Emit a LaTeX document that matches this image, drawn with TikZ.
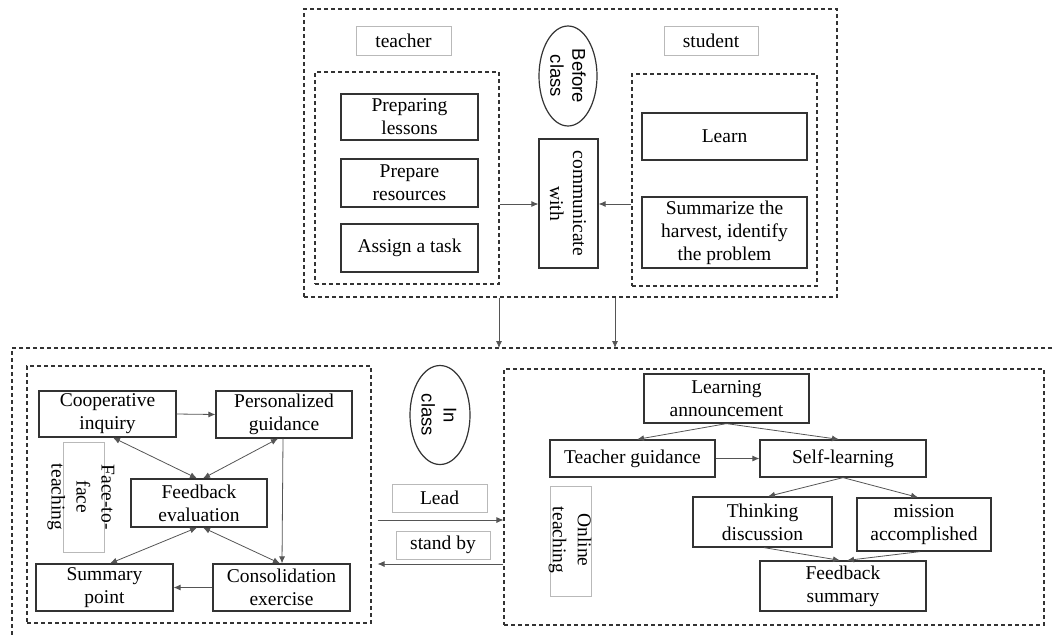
\documentclass[tikz,border=0pt]{standalone}
\usepackage{fontspec}
\setmainfont{Liberation Serif}
\newfontfamily\sansf{Liberation Sans}
\usetikzlibrary{arrows.meta,shapes.geometric}
\definecolor{bord}{HTML}{333333}
\definecolor{lin}{HTML}{555555}
\tikzset{
  box/.style={draw=bord,line width=1.2pt,rectangle,inner sep=0pt,align=center,font=\fontsize{19.5}{23}\selectfont},
  dbox/.style={draw=bord,line width=1.1pt,dash pattern=on 4pt off 3pt,rectangle,inner sep=0pt},
  lbl/.style={draw=gray!55,line width=0.9pt,rectangle,inner sep=0pt,align=center,font=\fontsize{19.5}{23}\selectfont},
  gbox/.style={draw=gray!55,line width=0.9pt,rectangle,inner sep=0pt},
  oval/.style={draw=bord,line width=1.2pt,ellipse,inner sep=0pt},
  rtext/.style={rotate=-90,align=center,inner sep=0pt},
  arr/.style={draw=lin,line width=0.8pt,-{Latex[length=7pt,width=6pt]}},
  darr/.style={draw=lin,line width=0.8pt,{Latex[length=7pt,width=6pt]}-{Latex[length=7pt,width=6pt]}},
}
\begin{document}
\begin{tikzpicture}[x=1pt,y=-1pt]
\useasboundingbox (0,0) rectangle (1056,635);
% ---------- top part ----------
\node[dbox,minimum width=533,minimum height=288] (topbox) at (570.5,153) {};
\node[lbl,minimum width=95,minimum height=29] (teacher) at (403.5,40.5) {teacher};
\node[lbl,minimum width=94,minimum height=29] (student) at (711,40.5) {student};
\node[oval,minimum width=58,minimum height=100] (before) at (568,76) {};
\node[rtext,font=\sansf\fontsize{18.5}{22}\selectfont] (beforet) at (568,76) {Before\\class};
\node[dbox,minimum width=184,minimum height=212] (tbox) at (407,178) {};
\node[box,minimum width=137,minimum height=46] (p1) at (409.5,117) {Preparing\\lessons};
\node[box,minimum width=137,minimum height=48] (p2) at (409.5,183) {Prepare\\resources};
\node[box,minimum width=137,minimum height=48] (p3) at (409.5,248) {Assign a task};
\node[box,minimum width=59,minimum height=129] (comm) at (568.5,203.5) {};
\node[rtext,font=\fontsize{19.5}{23}\selectfont] (commt) at (568,203.5) {communicate\\with};
\node[dbox,minimum width=185,minimum height=212] (sbox) at (724.5,180) {};
\node[box,minimum width=165,minimum height=47] (learn) at (724.5,136.5) {Learn};
\node[box,minimum width=165,minimum height=71] (summ) at (724.5,232.5) {Summarize the\\harvest, identify\\the problem};
\coordinate (ya) at (0,204);
\draw[arr] (tbox.east |- ya) -- (comm.west |- ya);
\draw[arr] (sbox.west |- ya) -- (comm.east |- ya);
% ---------- bottom outer ----------
\coordinate (bo1) at (12,348);
\coordinate (bo2) at (1052,348);
\coordinate (bo3) at (12,635);
\draw[draw=bord,line width=1.1pt,dash pattern=on 4pt off 3pt] (bo2) -- (bo1) -- (bo3);
\coordinate (d1) at (499,348);
\coordinate (d2) at (615,348);
\draw[arr] (topbox.south -| d1) -- (d1);
\draw[arr] (topbox.south -| d2) -- (d2);
% ---------- left bottom ----------
\node[dbox,minimum width=344,minimum height=257] (lbox) at (199,494.5) {};
\node[box,minimum width=137,minimum height=46] (coop) at (107.5,414) {Cooperative\\inquiry};
\node[box,minimum width=136,minimum height=47] (pers) at (284,414.5) {Personalized\\guidance};
\node[gbox,minimum width=41,minimum height=110] (f2f) at (83.5,497) {};
\node[rtext,font=\fontsize{19.5}{25}\selectfont] (f2ft) at (81,497) {Face-to-\\face\\teaching};
\node[box,minimum width=136,minimum height=48] (feval) at (199,503) {Feedback\\evaluation};
\node[box,minimum width=137,minimum height=47] (summp) at (104.5,587.5) {Summary\\point};
\node[box,minimum width=137,minimum height=47] (cons) at (281.5,587.5) {Consolidation\\exercise};
\node[oval,minimum width=60,minimum height=99] (inclass) at (440,415) {};
\node[rtext,font=\sansf\fontsize{18.5}{22}\selectfont] (inclasst) at (439,415) {In\\class};
\node[lbl,minimum width=95,minimum height=28] (lead) at (439.5,498) {Lead};
\node[lbl,minimum width=94,minimum height=28] (standby) at (443,545) {stand by};
\draw[arr] (coop.east) -- (pers.west);
\draw[darr] ([xshift=5.5pt]coop.south) -- ([xshift=-2pt]feval.north);
\draw[darr] ([xshift=-6pt]pers.south) -- ([xshift=4pt]feval.north);
\draw[arr] ([xshift=-1pt]pers.south) -- ([xshift=0.5pt]cons.north);
\draw[darr] ([xshift=-2pt]feval.south) -- ([xshift=5.5pt]summp.north);
\draw[darr] ([xshift=4pt]feval.south) -- ([xshift=-1.5pt]cons.north);
\draw[arr] (cons.west) -- (summp.east);
% ---------- right bottom ----------
\node[dbox,minimum width=540,minimum height=256] (rbox) at (774,497) {};
\node[box,minimum width=165,minimum height=49] (la) at (726.5,398.5) {Learning\\announcement};
\node[box,minimum width=165,minimum height=37] (tg) at (632.5,458.5) {Teacher guidance};
\node[box,minimum width=166,minimum height=37] (sl) at (843,458.5) {Self-learning};
\node[gbox,minimum width=41,minimum height=110] (online) at (570.5,541) {};
\node[rtext,font=\fontsize{19.5}{25}\selectfont] (onlinet) at (570,540) {Online\\teaching};
\node[box,minimum width=139,minimum height=50] (td) at (762.5,522) {Thinking\\discussion};
\node[box,minimum width=134,minimum height=53] (ma) at (924,524.5) {mission\\accomplished};
\node[box,minimum width=166,minimum height=50] (fs) at (843,586) {Feedback\\summary};
\draw[arr] (la.south) -- ([xshift=4.5pt]tg.north);
\draw[arr] (la.south) -- ([xshift=-4pt]sl.north);
\draw[arr] (tg.east) -- (sl.west);
\draw[arr] (sl.south) -- ([xshift=5.5pt]td.north);
\draw[arr] (sl.south) -- ([xshift=-6pt]ma.north);
\draw[arr] ([xshift=1.5pt]td.south) -- ([xshift=-3pt]fs.north);
\draw[arr] ([xshift=-4pt]ma.south) -- ([xshift=4pt]fs.north);
% ---------- lead / stand by ----------
\coordinate (yl) at (0,520);
\coordinate (ys) at (0,564);
\draw[arr] ([xshift=6pt]lbox.east |- yl) -- (rbox.west |- yl);
\draw[arr] (rbox.west |- ys) -- ([xshift=6pt]lbox.east |- ys);
\end{tikzpicture}
\end{document}
